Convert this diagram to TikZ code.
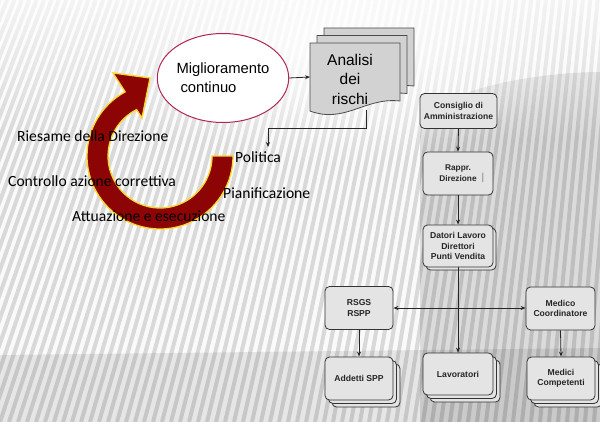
\documentclass[tikz,border=0pt]{standalone}
\usepackage{fontspec}
\setmainfont{Liberation Sans}
\newfontfamily\calib{Carlito}
\usetikzlibrary{arrows.meta,shapes.geometric,fadings,shadows}
\tikzfading[name=topfade, top color=transparent!0, bottom color=transparent!100]
\tikzfading[name=glowfade, inner color=transparent!0, outer color=transparent!100]
\definecolor{arrowred}{RGB}{140,4,4}
\definecolor{arrowyel}{RGB}{250,215,40}
\definecolor{ellred}{RGB}{175,40,85}
\definecolor{boxfill}{RGB}{228,228,228}
\definecolor{docfill}{RGB}{210,210,210}
\tikzset{
  stripe/.style={line width=4pt, color=gray!30},
  lbl/.style={font=\calib\fontsize{15.6}{18}\selectfont, inner sep=0pt, anchor=west},
  orgbox/.style={draw=black!80, line width=0.8pt, fill=boxfill, rounded corners=4.5pt,
     font=\bfseries\fontsize{8.6}{10.4}\selectfont, align=center, inner sep=1pt, text=black!85},
  stack2/.style={double copy shadow={shadow xshift=3.5pt, shadow yshift=-3.5pt}},
  stack1/.style={copy shadow={shadow xshift=3pt, shadow yshift=-3pt}},
  conn/.style={draw=black!85, line width=0.8pt, -{Stealth[length=5pt,width=4pt]}},
  docshape/.style={draw=black!70, line width=0.8pt, fill=docfill},
}
\begin{document}
\begin{tikzpicture}[x=1pt,y=-1pt]
\useasboundingbox (0,0) rectangle (600,422);
% background
\fill[gray!4] (0,0) rectangle (600,422);
\foreach \i in {-20,...,70}{
  \pgfmathsetmacro\xb{\i*9}
  \pgfmathsetmacro\xt{\xb+140-0.18*\xb}
  \draw[stripe] (\xb,422) -- (\xt,0);
}
\fill[black, opacity=0.08] (0,422) -- (0,355) -- (600,348) -- (600,422) -- cycle;
\fill[black, opacity=0.12] (450,100) .. controls (490,80) and (560,72) .. (600,72) -- (600,422) -- (420,422) -- (420,140) .. controls (420,120) and (430,108) .. (450,100) -- cycle;
\fill[white, path fading=topfade, opacity=0.7] (0,0) rectangle (600,140);
\fill[white, path fading=glowfade, opacity=0.85] (330,45) ellipse [x radius=240, y radius=120];

% curved arrow
\fill[arrowred, draw=arrowyel, line width=1.3pt]
  (233,156) arc[start angle=0, end angle=241.5, radius=73]
  -- (113,73) -- (150,78) -- (142,118) -- (136.6,109.6)
  arc[start angle=243.2, end angle=0, radius=52] -- cycle;

% ellipse
\node[ellipse, draw=ellred, line width=1pt, fill=white, minimum width=120pt, minimum height=89pt,
      align=left, font=\fontsize{14.8}{19}\selectfont, inner sep=0pt] (ell) at (223,78)
      {Miglioramento\\\hspace*{4pt}continuo};

% documents
\foreach \dx/\dy in {14/-15, 7/-7.5, 0/0}{
  \path[docshape, shift={(\dx,\dy)}] (310,43) -- (400,43) -- (400,101)
     .. controls (365,97) and (345,124) .. (310,111) -- cycle;
}
\node[font=\fontsize{15.5}{19.5}\selectfont, align=center, inner sep=0pt] (ana) at (350,79)
   {Analisi\\dei\\rischi};
\coordinate (anaL) at (310,77);
\coordinate (anaB) at (366,110);
\coordinate (polT) at (268,147);

% labels
\node[lbl] (pol) at (235,157) {Politica};
\node[lbl] (pia) at (223,193) {Pianificazione};
\node[lbl] (ries) at (17,136) {Riesame della Direzione};
\node[lbl] (ctrl) at (8,181) {Controllo azione correttiva};
\node[lbl] (attu) at (72,216) {Attuazione e esecuzione};

\draw[conn] (ell.east) -- (anaL);
\draw[conn] (anaB) -- ++(0,18) -| (polT);

% org chart
\node[orgbox, minimum width=77pt, minimum height=35pt] (cda) at (458.5,111) {Consiglio di\\Amministrazione};
\node[orgbox, minimum width=70pt, minimum height=43pt, font=\bfseries\fontsize{8.3}{10.8}\selectfont] (rap) at (458,173.5) {Rappr.\\Direzione};
\node[text=gray, font=\fontsize{10}{10}\selectfont, inner sep=0pt] (cur) at (483,178) {|};
\node[orgbox, stack1, minimum width=70pt, minimum height=42pt] (dat) at (458,246) {Datori Lavoro\\Direttori\\Punti Vendita};
\node[orgbox, minimum width=68pt, minimum height=43pt] (rsgs) at (359,308) {RSGS\\RSPP};
\node[orgbox, minimum width=69pt, minimum height=43pt] (med) at (560.5,308.5) {Medico\\Coordinatore};
\node[orgbox, stack2, minimum width=68pt, minimum height=43pt] (add) at (359,378.5) {Addetti SPP};
\node[orgbox, stack2, minimum width=70pt, minimum height=42pt] (lav) at (458,374) {Lavoratori};
\node[orgbox, stack2, minimum width=68pt, minimum height=43pt] (mcs) at (561,378.5) {Medici\\Competenti};

\draw[conn] (cda.south) -- (rap.north);
\draw[conn] (rap.south) -- (dat.north);
\draw[conn] (dat.south) -- (lav.north);
\draw[conn, {Stealth[length=5pt,width=4pt]}-{Stealth[length=5pt,width=4pt]}] (rsgs.east) -- (rsgs.east -| med.west);
\draw[conn] (rsgs.south) -- (add.north);
\draw[conn] (med.south) -- (mcs.north);
\end{tikzpicture}
\end{document}
